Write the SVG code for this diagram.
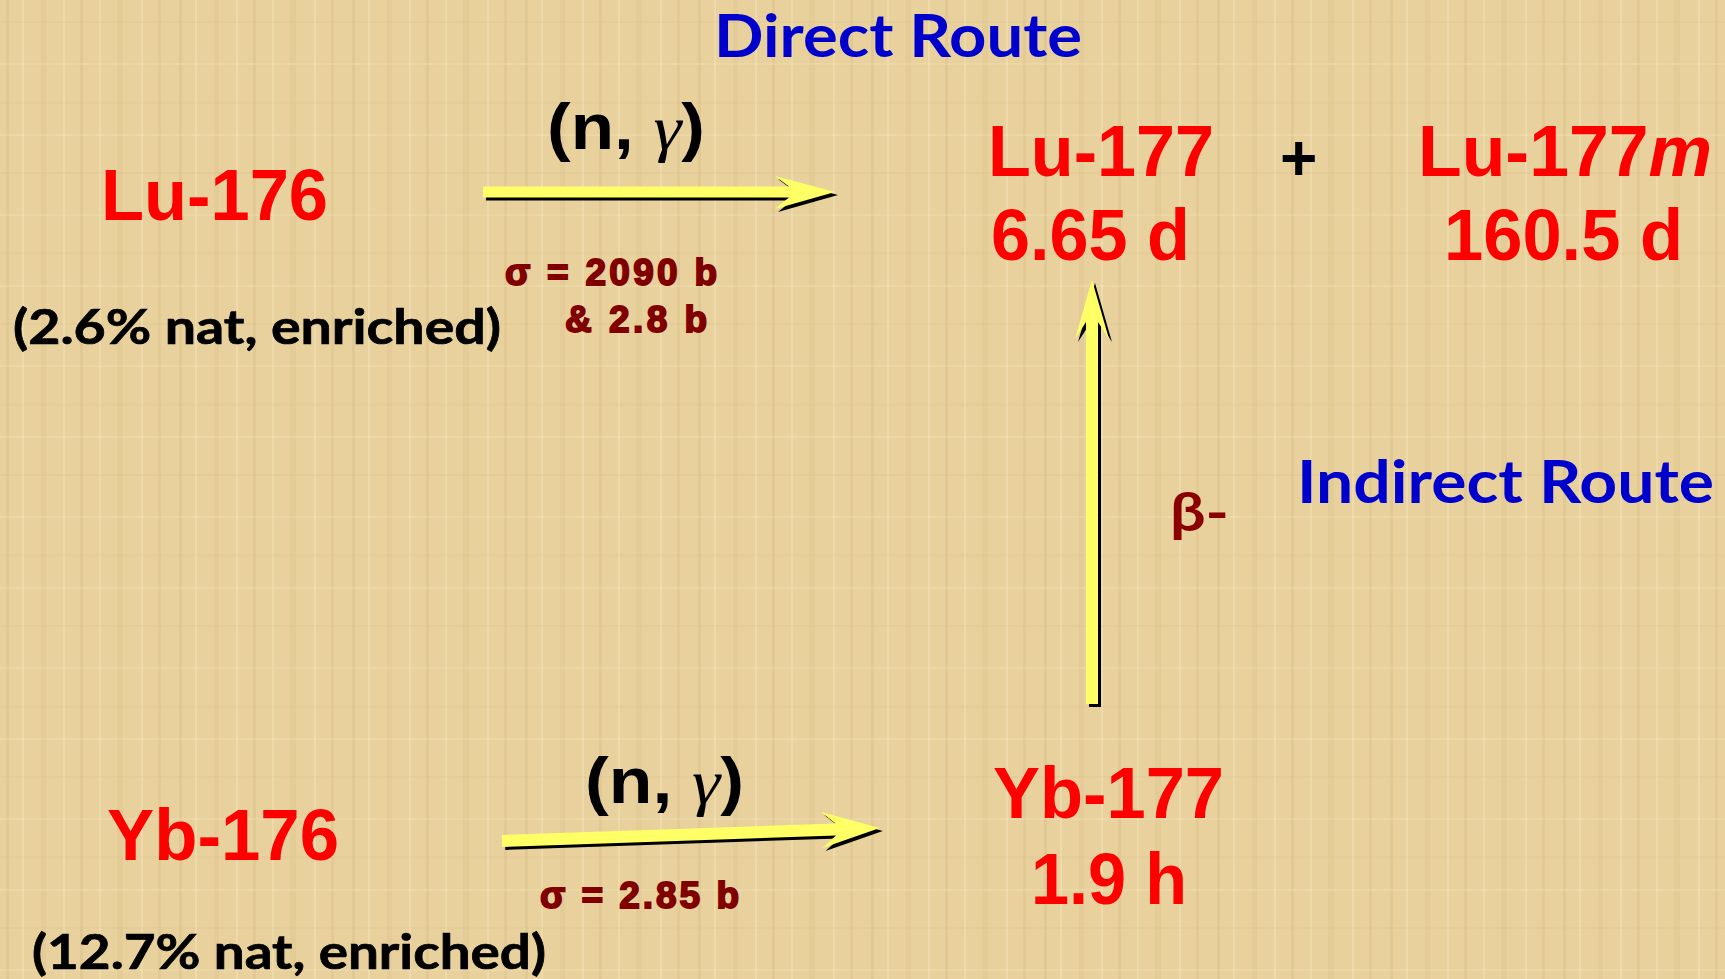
<svg xmlns="http://www.w3.org/2000/svg" width="1725" height="979" viewBox="0 0 1725 979">
  <defs>
    <pattern id="papyrus" x="0" y="0" width="173" height="151" patternUnits="userSpaceOnUse">
      <rect width="173" height="151" fill="#e8d19d"/>
      <rect x="6" y="0" width="3" height="151" fill="#c9ab6e" opacity="0.22"/>
      <rect x="22" y="0" width="2" height="151" fill="#f6e6bd" opacity="0.45"/>
      <rect x="41" y="0" width="5" height="151" fill="#d2b67c" opacity="0.2"/>
      <rect x="63" y="0" width="2" height="151" fill="#f7e8c2" opacity="0.4"/>
      <rect x="80" y="0" width="3" height="151" fill="#c8a96b" opacity="0.18"/>
      <rect x="99" y="0" width="2" height="151" fill="#f5e4b8" opacity="0.45"/>
      <rect x="117" y="0" width="6" height="151" fill="#d4b87e" opacity="0.2"/>
      <rect x="141" y="0" width="2" height="151" fill="#f7e9c4" opacity="0.4"/>
      <rect x="158" y="0" width="3" height="151" fill="#cbad70" opacity="0.2"/>
      <rect x="0" y="21" width="173" height="2" fill="#d8be86" opacity="0.18"/>
      <rect x="0" y="63" width="173" height="2" fill="#f4e3b6" opacity="0.3"/>
      <rect x="0" y="101" width="173" height="3" fill="#d6ba80" opacity="0.15"/>
      <rect x="0" y="134" width="173" height="2" fill="#f5e5ba" opacity="0.3"/>
    </pattern>
    <style>
      .iso { font-family: "Liberation Sans", Arial, sans-serif; font-weight: bold; fill: #ff0000; font-size: 72px; }
      .route { font-family: Lato, "Open Sans", sans-serif; font-weight: bold; fill: #0000cc; font-size: 60px; }
      .nat { font-family: Lato, "Open Sans", sans-serif; font-weight: bold; fill: #000000; stroke: #000000; stroke-width: 0.7px; font-size: 48px; }
      .react { font-family: "Liberation Sans", Arial, sans-serif; font-weight: bold; fill: #000000; font-size: 64px; }
      .gamma { font-family: "Liberation Serif", "DejaVu Serif", serif; font-style: italic; font-weight: normal; }
      .sigma { font-family: "Liberation Sans", Arial, sans-serif; font-weight: bold; fill: #800000; stroke: #800000; stroke-width: 1.8px; font-size: 37px; }
      .beta { font-family: Lato, "Open Sans", sans-serif; font-weight: bold; fill: #8b0000; font-size: 54px; }
      .arrow { fill: #ffff66; }
      .shadow { fill: #000000; }
    </style>
  </defs>

  <rect id="background" x="0" y="0" width="1725" height="979" fill="url(#papyrus)"/>

  <g id="connectors">
    <g id="arrow-lu176-lu177" transform="translate(483,192)">
      <polygon class="shadow" transform="translate(3,3)" points="0,-5.5 306,-5.5 292,-16 352,0 292,17 306,5.5 0,5.5"/>
      <polygon class="arrow" points="0,-5.5 306,-5.5 292,-16 352,0 292,17 306,5.5 0,5.5"/>
    </g>
    <g id="arrow-yb177-lu177" transform="translate(1092,704) rotate(-90)">
      <polygon class="shadow" transform="translate(-3,3)" points="0,-6 382,-6 365,-17 424,0 365,17 382,6 0,6"/>
      <polygon class="arrow" points="0,-6 382,-6 365,-17 424,0 365,17 382,6 0,6"/>
    </g>
    <g id="arrow-yb176-yb177" transform="translate(502,841) rotate(-1.97)">
      <polygon class="shadow" transform="translate(3,3)" points="0,-6 334,-6 320,-18 378,0 320,18 334,6 0,6"/>
      <polygon class="arrow" points="0,-6 334,-6 320,-18 378,0 320,18 334,6 0,6"/>
    </g>
  </g>

  <g id="label-direct-route">
    <text class="route" x="714" y="57" textLength="368" lengthAdjust="spacingAndGlyphs">Direct Route</text>
  </g>

  <g id="label-top-reaction">
    <text class="react" x="547" y="149" textLength="158" lengthAdjust="spacingAndGlyphs">(n, <tspan class="gamma">γ</tspan>)</text>
    <text class="sigma" x="505" y="285" textLength="212" lengthAdjust="spacing">σ = 2090 b</text>
    <text class="sigma" x="565" y="332" textLength="142" lengthAdjust="spacing">&amp; 2.8 b</text>
  </g>

  <g id="node-lu176">
    <text class="iso" x="101" y="220" textLength="227" lengthAdjust="spacingAndGlyphs">Lu-176</text>
    <text class="nat" x="13" y="344" textLength="488" lengthAdjust="spacingAndGlyphs">(2.6% nat, enriched)</text>
  </g>

  <g id="node-lu177">
    <text class="iso" x="988" y="176" textLength="226" lengthAdjust="spacingAndGlyphs">Lu-177</text>
    <text class="iso" x="991" y="260" textLength="199" lengthAdjust="spacingAndGlyphs">6.65 d</text>
  </g>

  <g id="label-plus">
    <text class="react" x="1280" y="180" font-size="72">+</text>
  </g>

  <g id="node-lu177m">
    <text class="iso" x="1418" y="176" textLength="294" lengthAdjust="spacingAndGlyphs">Lu-177<tspan font-style="italic">m</tspan></text>
    <text class="iso" x="1444" y="260" textLength="239" lengthAdjust="spacingAndGlyphs">160.5 d</text>
  </g>

  <g id="label-beta">
    <text class="beta" x="1170" y="531" textLength="59" lengthAdjust="spacingAndGlyphs">β-</text>
  </g>

  <g id="label-indirect-route">
    <text class="route" x="1297" y="503" textLength="417" lengthAdjust="spacingAndGlyphs">Indirect Route</text>
  </g>

  <g id="label-bottom-reaction">
    <text class="react" x="585" y="803" textLength="159" lengthAdjust="spacingAndGlyphs">(n, <tspan class="gamma">γ</tspan>)</text>
    <text class="sigma" x="540" y="908" textLength="199" lengthAdjust="spacing">σ = 2.85 b</text>
  </g>

  <g id="node-yb176">
    <text class="iso" x="107" y="860" textLength="232" lengthAdjust="spacingAndGlyphs">Yb-176</text>
    <text class="nat" x="32" y="969" textLength="514" lengthAdjust="spacingAndGlyphs">(12.7% nat, enriched)</text>
  </g>

  <g id="node-yb177">
    <text class="iso" x="993" y="818" textLength="231" lengthAdjust="spacingAndGlyphs">Yb-177</text>
    <text class="iso" x="1031" y="904" textLength="156" lengthAdjust="spacingAndGlyphs">1.9 h</text>
  </g>
</svg>
